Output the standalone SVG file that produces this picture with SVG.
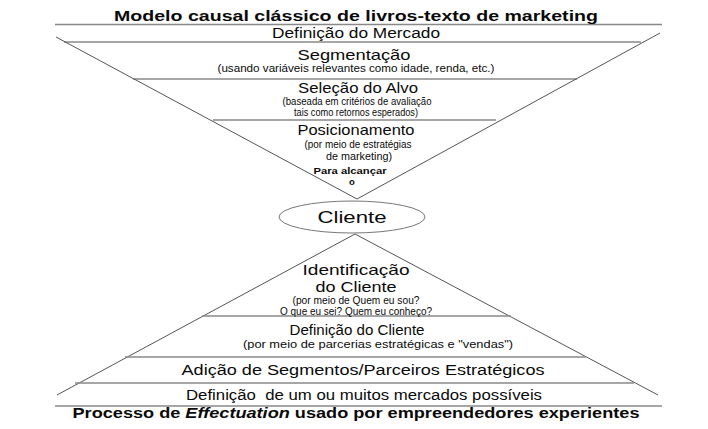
<svg xmlns="http://www.w3.org/2000/svg" width="708" height="429" viewBox="0 0 708 429">
<style>
  text { font-family: "Liberation Sans", Arial, sans-serif; fill: #0a0a0a; text-anchor: middle; }
  .t { font-size: 15px; font-weight: bold; }
  .h { font-size: 14px; }
  .h2 { font-size: 15px; }
  .s { font-size: 10.5px; }
  .b { font-size: 9.5px; font-weight: bold; }
  .sep { stroke: #888; stroke-width: 1.3; fill: none; }
  .edge { stroke: #555; stroke-width: 1; fill: none; }
</style>
<rect width="708" height="429" fill="#fff"/>
<g id="connectors">
  <line class="sep" x1="55" y1="24.5" x2="662" y2="24.5"/>
  <line class="sep" x1="64" y1="42" x2="641" y2="42"/>
  <line class="sep" x1="133" y1="79" x2="577" y2="79"/>
  <line class="sep" x1="213" y1="120" x2="496" y2="120"/>
  <path class="edge" d="M56,37 L357,199 L660,33"/>
  <path class="edge" d="M57,395 L355,234 L658,395"/>
  <line class="sep" x1="202" y1="316" x2="511" y2="316"/>
  <line class="sep" x1="125" y1="357" x2="586" y2="357"/>
  <line class="sep" x1="75" y1="383" x2="634" y2="383"/>
  <line class="sep" x1="55" y1="406" x2="662" y2="406"/>
</g>
<g id="titulo-topo">
  <text class="t" x="356" y="21" textLength="484" lengthAdjust="spacingAndGlyphs">Modelo causal clássico de livros-texto de marketing</text>
</g>
<g id="definicao-mercado">
  <text class="h" x="356" y="37.5" textLength="168" lengthAdjust="spacingAndGlyphs">Definição do Mercado</text>
</g>
<g id="segmentacao">
  <text class="h2" x="354" y="60" textLength="113" lengthAdjust="spacingAndGlyphs">Segmentação</text>
  <text class="s" x="356" y="72" textLength="277" lengthAdjust="spacingAndGlyphs">(usando variáveis relevantes como idade, renda, etc.)</text>
</g>
<g id="selecao-alvo">
  <text class="h2" x="358" y="93" textLength="120" lengthAdjust="spacingAndGlyphs">Seleção do Alvo</text>
  <text class="s" x="357" y="105" textLength="149" lengthAdjust="spacingAndGlyphs">(baseada em critérios de avaliação</text>
  <text class="s" x="356" y="116" textLength="124" lengthAdjust="spacingAndGlyphs">tais como retornos esperados)</text>
</g>
<g id="posicionamento">
  <text class="h2" x="356" y="134.5" textLength="117" lengthAdjust="spacingAndGlyphs">Posicionamento</text>
  <text class="s" x="358" y="148" textLength="107" lengthAdjust="spacingAndGlyphs">(por meio de estratégias</text>
  <text class="s" x="359" y="159.5" textLength="66" lengthAdjust="spacingAndGlyphs">de marketing)</text>
  <text class="b" x="350" y="174" textLength="73" lengthAdjust="spacingAndGlyphs">Para alcançar</text>
  <text class="b" x="352" y="185">o</text>
</g>
<g id="cliente">
  <ellipse cx="352" cy="217" rx="73" ry="16" fill="#fff" stroke="#777" stroke-width="1"/>
  <text x="352" y="222.5" style="font-size:16px" textLength="69" lengthAdjust="spacingAndGlyphs">Cliente</text>
</g>
<g id="identificacao-cliente">
  <text class="h2" x="356" y="275" textLength="107" lengthAdjust="spacingAndGlyphs">Identificação</text>
  <text class="h2" x="356" y="292" textLength="81" lengthAdjust="spacingAndGlyphs">do Cliente</text>
  <text class="s" x="356" y="304" textLength="127" lengthAdjust="spacingAndGlyphs">(por meio de Quem eu sou?</text>
  <text class="s" x="356" y="315" textLength="152" lengthAdjust="spacingAndGlyphs">O que eu sei? Quem eu conheço?</text>
</g>
<g id="definicao-cliente">
  <text class="h" x="357" y="335" textLength="135" lengthAdjust="spacingAndGlyphs">Definição do Cliente</text>
  <text class="s" x="378" y="348" textLength="270" lengthAdjust="spacingAndGlyphs">(por meio de parcerias estratégicas e "vendas")</text>
</g>
<g id="adicao-segmentos">
  <text class="h" x="363" y="375" textLength="363" lengthAdjust="spacingAndGlyphs">Adição de Segmentos/Parceiros Estratégicos</text>
</g>
<g id="definicao-mercados">
  <text class="h" x="364" y="399.5" textLength="356" lengthAdjust="spacingAndGlyphs" style="white-space:pre">Definição  de um ou muitos mercados possíveis</text>
</g>
<g id="titulo-base">
  <text class="t" x="356" y="418" textLength="567" lengthAdjust="spacingAndGlyphs">Processo de <tspan font-style="italic">Effectuation</tspan> usado por empreendedores experientes</text>
</g>
</svg>
